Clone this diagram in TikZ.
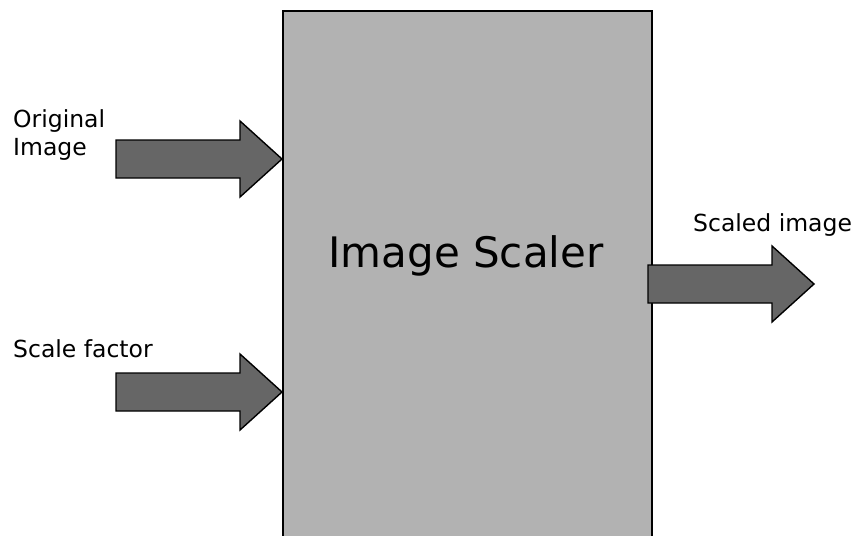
\documentclass[tikz,border=0pt]{standalone}
\usepackage{fontspec}
\setmainfont{DejaVu Sans}
\usepackage{tikz}

\tikzset{
  blockfill/.style={draw=black,line width=1.6pt,fill=black!30},
  arrowfill/.style={draw=black,line width=1.4pt,fill=black!60,line join=miter},
  io/.style={inner sep=0pt,anchor=base west,align=left,font=\fontsize{23.5}{28}\selectfont},
  fatarrow/.pic={
    \draw[arrowfill] (0,-19) -- (124,-19) -- (124,-38) -- (166,0)
      -- (124,38) -- (124,19) -- (0,19) -- cycle;
  }
}

\begin{document}
\begin{tikzpicture}[x=1pt,y=-1pt]
    \useasboundingbox (0,0) rectangle (858,535);
    \begin{scope}
      \clip (0,0) rectangle (858,535);
      \node[blockfill,anchor=north west,minimum width=369pt,minimum height=560pt] (scaler) at (282,10) {};
    \end{scope}
    \node[font=\fontsize{42}{48}\selectfont] (title) at (466,256) {Image Scaler};
    % inputs and output
    \pic (orig) at (116,159) {fatarrow};
    \pic (factor) at (116,392) {fatarrow};
    \pic (out) at (648,284) {fatarrow};
    \node[io] (origlbl) at (13,155) {Original\\Image};
    \node[io] (factorlbl) at (13,357) {Scale factor};
    \node[io] (outlbl) at (693,231) {Scaled image};
  \end{tikzpicture}
\end{document}
